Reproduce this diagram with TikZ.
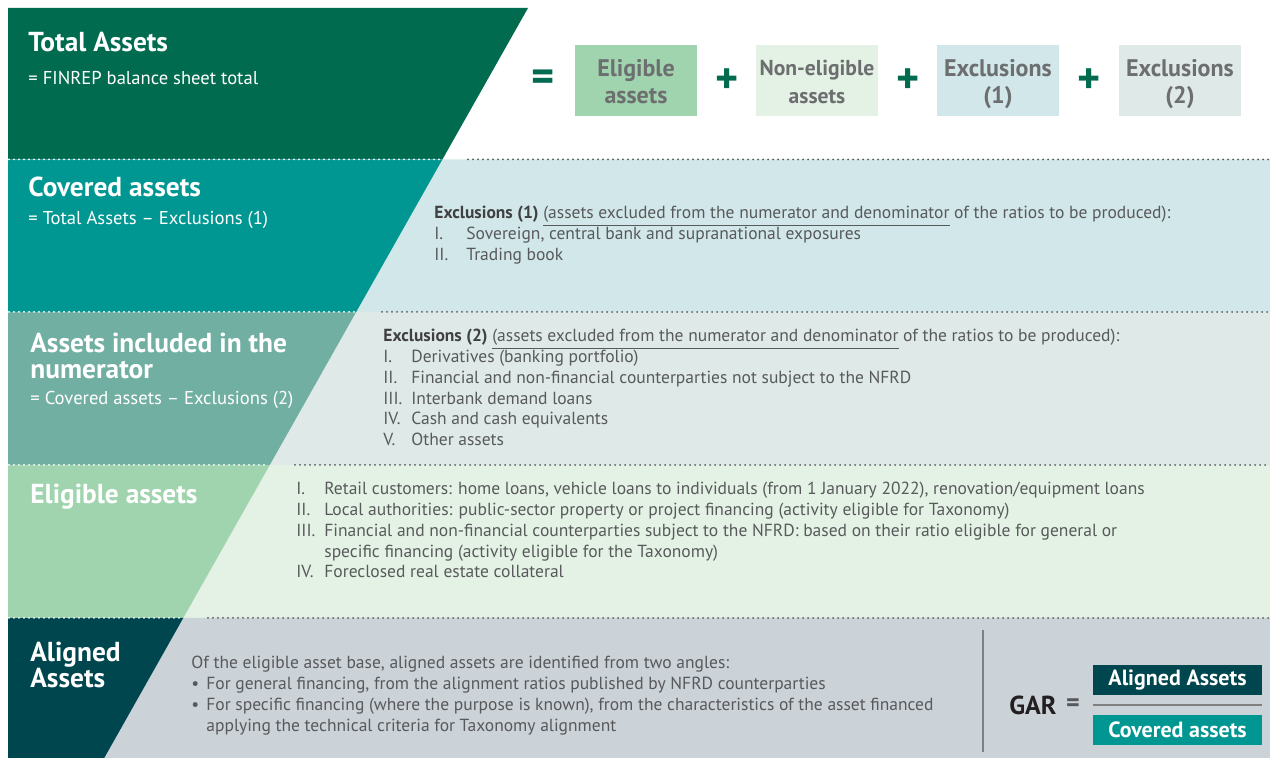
\documentclass[tikz,border=0pt]{standalone}
\usepackage{fontspec}
\setmainfont{PT Sans}
\usetikzlibrary{calc}
\definecolor{cTot}{HTML}{006B4F}
\definecolor{cCov}{HTML}{009792}
\definecolor{cInc}{HTML}{72AFA3}
\definecolor{cElig}{HTML}{A0D4AE}
\definecolor{cAlig}{HTML}{00464F}
\definecolor{lCov}{HTML}{D1E7E9}
\definecolor{lInc}{HTML}{DFE9E8}
\definecolor{lElig}{HTML}{E4F2E5}
\definecolor{lAlig}{HTML}{CBD2D8}
\definecolor{txt}{HTML}{58595B}
\definecolor{txtdark}{HTML}{404042}
\definecolor{boxtxt}{HTML}{6D6E70}
\definecolor{dotc}{HTML}{5A5A5C}
\definecolor{garc}{HTML}{231F20}
\newcommand\romitem[2][14pt]{\makebox[#1][l]{#2}}
\begin{document}
\begin{tikzpicture}[x=0.5pt,y=-0.5pt,
  title/.style={anchor=west, inner sep=0, text=white, font=\fontsize{13.7}{13}\selectfont\bfseries, align=left},
  sub/.style={anchor=west, inner sep=0, text=white, font=\fontsize{9.3}{10}\selectfont},
  body/.style={anchor=west, inner sep=0, text=txt, font=\fontsize{8.75}{10.45}\selectfont, align=left},
  eqbox/.style={minimum width=61pt, minimum height=35.5pt, inner sep=0},
  eqtext/.style={inner sep=0, text=boxtxt, font=\fontsize{12}{13.5}\selectfont\bfseries, align=center},
  op/.style={text=cTot, font=\fontsize{22}{22}\selectfont\bfseries, inner sep=0},
  wdots/.style={draw=white, line width=1pt, dash pattern=on 0pt off 2.5pt, line cap=round},
  ddots/.style={draw=dotc, line width=1pt, dash pattern=on 0pt off 2.5pt, line cap=round},
  garbox/.style={minimum width=84.5pt, minimum height=15pt, inner sep=0, text=white, font=\fontsize{11}{11}\selectfont\bfseries}]
\useasboundingbox (0,0) rectangle (1270,758);
\fill[white] (0,0) rectangle (1270,758);
% right light regions
\fill[lCov] (442.4,159.5) -- (1270,159.5) -- (1270,312) -- (356.2,312) -- cycle;
\fill[lInc] (356.2,312) -- (1270,312) -- (1270,465) -- (269.8,465) -- cycle;
\fill[lElig] (269.8,465) -- (1270,465) -- (1270,618) -- (183.3,618) -- cycle;
\fill[lAlig] (183.3,618) -- (1270,618) -- (1270,758) -- (104.25,758) -- cycle;
% left coloured bands
\fill[cTot] (8,8) -- (528,8) -- (442.4,159.5) -- (8,159.5) -- cycle;
\fill[cCov] (8,159.5) -- (442.4,159.5) -- (356.2,312) -- (8,312) -- cycle;
\fill[cInc] (8,312) -- (356.2,312) -- (269.8,465) -- (8,465) -- cycle;
\fill[cElig] (8,465) -- (269.8,465) -- (183.3,618) -- (8,618) -- cycle;
\fill[cAlig] (8,618) -- (183.3,618) -- (104.25,758) -- (8,758) -- cycle;
% dotted separators
\draw[wdots] (9,159.5) -- (440,159.5);
\draw[ddots] (468,159.5) -- (1269,159.5);
\draw[wdots] (9,312) -- (354,312);
\draw[ddots] (382,312) -- (1269,312);
\draw[wdots] (9,465) -- (268,465);
\draw[ddots] (295,465) -- (1269,465);
\draw[wdots] (9,618) -- (181,618);
\draw[ddots] (208,618) -- (1269,618);
% titles
\node[title] (t1) at (28,42) {Total Assets};
\node[sub] (s1) at (28,78) {= FINREP balance sheet total};
\node[title] (t2) at (28,187) {Covered assets};
\node[sub] (s2) at (28,220) {= Total Assets – Exclusions (1)};
\node[title] (t3) at (30,356) {Assets included in the\\numerator};
\node[sub] (s3) at (30,400) {= Covered assets – Exclusions (2)};
\node[title] (t4) at (30,497) {Eligible assets};
\node[title] (t5) at (30,664.5) {Aligned\\Assets};
% equation
\node[op] (eq) at (543,81) {=};
\node[eqbox, fill=cElig] (b1) at (636,81) {};
\node[eqtext] (b1t) at (636,82) {Eligible\\assets};
\node[op] (p1) at (727,81) {+};
\node[eqbox, fill=lElig] (b2) at (817,81) {};
\node[eqtext, font=\fontsize{10.8}{14}\selectfont\bfseries] (b2t) at (817,82) {Non-eligible\\assets};
\node[op] (p2) at (908,81) {+};
\node[eqbox, fill=lCov] (b3) at (998,81) {};
\node[eqtext] (b3t) at (998,84) {Exclusions\\(1)};
\node[op] (p3) at (1089,81) {+};
\node[eqbox, fill=lInc] (b4) at (1180,81) {};
\node[eqtext] (b4t) at (1180,84) {Exclusions\\(2)};
% body texts
\node[body] (x1) at (434,235.5) {{\color{txtdark}\bfseries Exclusions (1)} \underline{(assets excluded from the numerator and denominator} of the ratios to be produced):\\
\romitem[16pt]{I.}Sovereign, central bank and supranational exposures\\
\romitem[16pt]{II.}Trading book};
\node[body] (x2) at (383,387.5) {{\color{txtdark}\bfseries Exclusions (2)} \underline{(assets excluded from the numerator and denominator} of the ratios to be produced):\\
\romitem{I.}Derivatives (banking portfolio)\\
\romitem{II.}Financial and non-financial counterparties not subject to the NFRD\\
\romitem{III.}Interbank demand loans\\
\romitem{IV.}Cash and cash equivalents\\
\romitem{V.}Other assets};
\node[body] (x3) at (296,530) {\romitem{I.}Retail customers: home loans, vehicle loans to individuals (from 1 January 2022), renovation/equipment loans\\
\romitem{II.}Local authorities: public-sector property or project financing (activity eligible for Taxonomy)\\
\romitem{III.}Financial and non-financial counterparties subject to the NFRD: based on their ratio eligible for general or\\
\romitem{}specific financing (activity eligible for the Taxonomy)\\
\romitem{IV.}Foreclosed real estate collateral};
\node[body] (x4) at (191,695.5) {Of the eligible asset base, aligned assets are identified from two angles:\\
\romitem[7.5pt]{•}For general financing, from the alignment ratios published by NFRD counterparties\\
\romitem[7.5pt]{•}For specific financing (where the purpose is known), from the characteristics of the asset financed\\
\romitem[7.5pt]{}applying the technical criteria for Taxonomy alignment};
% GAR
\coordinate (vt) at (983,630);
\coordinate (vb) at (983,752);
\draw[draw=gray, line width=0.6pt] (vt) -- (vb);
\node[inner sep=0, text=garc, font=\fontsize{13}{13}\selectfont\bfseries] (gar) at (1033,705) {GAR};
\node[inner sep=0, text=txt, font=\fontsize{13}{13}\selectfont\bfseries] (geq) at (1073,705) {=};
\node[garbox, fill=cAlig] (al) at (1177.5,680) {Aligned Assets};
\node[garbox, fill=cCov] (cv) at (1177.5,730) {Covered assets};
\draw[draw=gray, line width=0.6pt] ($(al.south west)!0.5!(cv.north west)$) -- ($(al.south east)!0.5!(cv.north east)$);
\end{tikzpicture}
\end{document}
